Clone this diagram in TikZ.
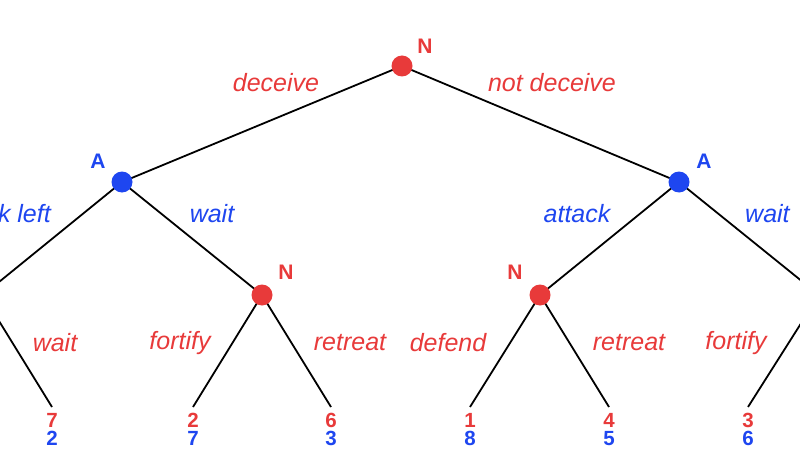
\documentclass[tikz,border=0pt]{standalone}
\usepackage{fontspec}
\setmainfont{Liberation Sans}
\definecolor{nred}{RGB}{232,58,58}
\definecolor{ablue}{RGB}{30,70,240}
\begin{document}
\begin{tikzpicture}[x=1pt,y=-1pt,
  edge/.style={line width=1.8pt,black},
  ndot/.style={circle,fill=nred,minimum size=21pt,inner sep=0pt},
  adot/.style={circle,fill=ablue,minimum size=21pt,inner sep=0pt},
  plab/.style={font=\bfseries\fontsize{21}{21}\selectfont,inner sep=0pt},
  lab/.style={font=\itshape\fontsize{25}{25}\selectfont,inner sep=0pt},
  pay/.style={font=\bfseries\fontsize{20.5}{18}\selectfont,inner sep=0pt,anchor=base}
]
\clip (0,0) rectangle (800,476);
\fill[white] (0,0) rectangle (800,476);
% positions
\coordinate (LL) at (-17,295);
\coordinate (RR) at (819,295);
\coordinate (l2) at (52,407);
\coordinate (l3) at (193,407);
\coordinate (l4) at (331,407);
\coordinate (l5) at (470,407);
\coordinate (l6) at (609,407);
\coordinate (l7) at (748,407);
\path (402,66) coordinate (r0);
\path (122,182) coordinate (a1);
\path (679,182) coordinate (a2);
\path (262,295) coordinate (n1);
\path (540,295) coordinate (n2);
% edges
\draw[edge] (r0) -- (a1);
\draw[edge] (r0) -- (a2);
\draw[edge] (a1) -- (LL);
\draw[edge] (a1) -- (n1);
\draw[edge] (a2) -- (n2);
\draw[edge] (a2) -- (RR);
\draw[edge] (LL) -- (l2);
\draw[edge] (n1) -- (l3);
\draw[edge] (n1) -- (l4);
\draw[edge] (n2) -- (l5);
\draw[edge] (n2) -- (l6);
\draw[edge] (RR) -- (l7);
% decision dots
\node[ndot] (root) at (r0) {};
\node[adot] (A1) at (a1) {};
\node[adot] (A2) at (a2) {};
\node[ndot] (N1) at (n1) {};
\node[ndot] (N2) at (n2) {};
% player labels
\node[plab,text=nred] (tr0) at (425,46) {N};
\node[plab,text=ablue] (ta1) at (98,161) {A};
\node[plab,text=ablue] (ta2) at (704,161) {A};
\node[plab,text=nred] (tn1) at (286,272) {N};
\node[plab,text=nred] (tn2) at (515,272) {N};
% action labels
\node[lab,text=nred] (e1) at (276,83) {deceive};
\node[lab,text=nred] (e2) at (552,83) {not deceive};
\node[lab,text=ablue,anchor=east] (e3) at (51,214) {attack left};
\node[lab,text=ablue] (e4) at (212,214) {wait};
\node[lab,text=ablue] (e5) at (577,214) {attack};
\node[lab,text=ablue,anchor=west] (e6) at (745,214) {wait};
\node[lab,text=nred] (e7) at (55,343) {wait};
\node[lab,text=nred] (e8) at (180,343) {fortify};
\node[lab,text=nred] (e9) at (350,343) {retreat};
\node[lab,text=nred] (e10) at (448,343) {defend};
\node[lab,text=nred] (e11) at (629,343) {retreat};
\node[lab,text=nred] (e12) at (736,343) {fortify};
% payoffs (red = N, blue = A)
\foreach \nm/\x/\r/\b in {p2/52/7/2, p3/193/2/7, p4/331/6/3, p5/470/1/8, p6/609/4/5, p7/748/3/6}{
  \node[pay,text=nred] (\nm r) at (\x,427) {\r};
  \node[pay,text=ablue] (\nm b) at (\x,445) {\b};
}
\end{tikzpicture}
\end{document}
